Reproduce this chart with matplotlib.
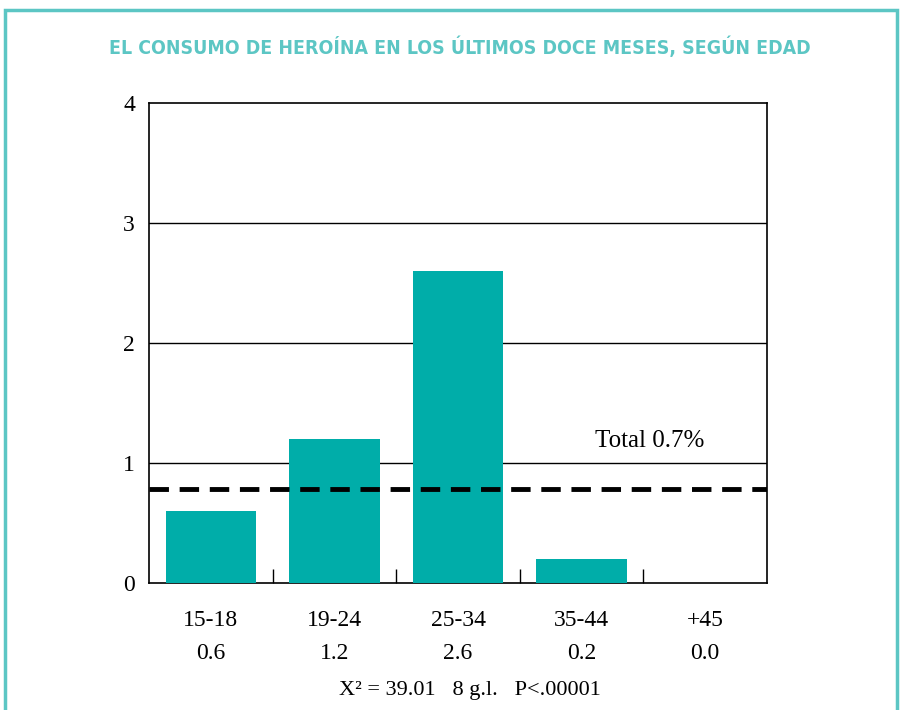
import matplotlib
matplotlib.use("Agg")
import matplotlib.pyplot as plt
from matplotlib.patches import Rectangle

categories = ["15-18", "19-24", "25-34", "35-44", "+45"]
values = [0.6, 1.2, 2.6, 0.2, 0.0]
value_labels = ["0.6", "1.2", "2.6", "0.2", "0.0"]
total_line = 0.78
total_label = "Total 0.7%"
yticks = [0, 1, 2, 3, 4]
title = "EL CONSUMO DE HEROÍNA EN LOS ÚLTIMOS DOCE MESES, SEGÚN EDAD"
stat_text = "X² = 39.01   8 g.l.   P<.00001"

teal = "#00ADA9"
frame = "#5CC6C4"
serif = ["Liberation Serif", "DejaVu Serif"]

fig = plt.figure(figsize=(9.03, 7.10), dpi=100)
W, H = 903, 710
ax = fig.add_axes([149 / W, 1 - 583 / H, (767 - 149) / W, (583 - 103) / H])

x = list(range(len(categories)))
ax.bar(x, values, width=0.73, color=teal, zorder=3)
ax.set_xlim(-0.5, len(categories) - 0.5)
ax.set_ylim(0, 4)
for y in yticks[1:-1]:
    ax.axhline(y, color="black", lw=1.0, zorder=1)
ax.axhline(total_line, color="black", lw=3.5, dashes=(4, 2.2), zorder=4)
ax.text(3.55, 1.18, total_label, fontsize=18, family=serif, ha="center", va="center")

ax.set_yticks(yticks)
ax.set_yticklabels([str(v) for v in yticks], fontsize=17, family=serif)
ax.tick_params(axis="y", length=0, pad=10)
ax.set_xticks([i + 0.5 for i in x[:-1]])
ax.set_xticklabels([])
ax.tick_params(axis="x", direction="in", length=10, width=1)
for s in ax.spines.values():
    s.set_linewidth(1.2)

for i, (c, v) in enumerate(zip(categories, value_labels)):
    ax.text(i, -0.31, c, fontsize=17, family=serif, ha="center", va="center", clip_on=False)
    ax.text(i, -0.59, v, fontsize=17, family=serif, ha="center", va="center", clip_on=False)

fig.text(470 / W, 1 - 690 / H, stat_text, fontsize=16, family=serif, ha="center", va="center")

t = fig.text(460 / W, 1 - 47 / H, title, fontsize=17, fontweight="bold", color=frame,
             family="DejaVu Sans", fontstretch="condensed", ha="center", va="center")
fig.canvas.draw()
w = t.get_window_extent(renderer=fig.canvas.get_renderer()).width
t.set_fontsize(17 * min(1.0, 698 / w))

fig.patches.append(Rectangle((5 / W, -0.1), (897 - 5) / W, 1 - 10 / H + 0.1,
                             transform=fig.transFigure, fill=False, edgecolor=frame, lw=2.5))

fig.savefig("out.png", dpi=100)
